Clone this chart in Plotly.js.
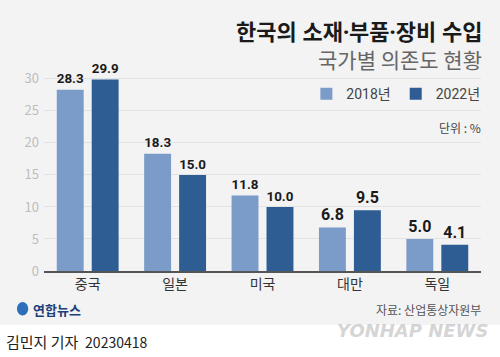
<!DOCTYPE html>
<html>
<head>
<meta charset="utf-8">
<script src="https://cdn.plot.ly/plotly-3.0.1.min.js"></script>
<style>html,body{margin:0;padding:0;background:#f3f3f3;}#chart{width:500px;height:357px;}</style>
</head>
<body>
<div id="chart"></div>
<script>
const countries = ['중국', '일본', '미국', '대만', '독일'];
const values2018 = [28.3, 18.3, 11.8, 6.8, 5.0];
const values2022 = [29.9, 15.0, 10.0, 9.5, 4.1];
const seriesNames = ['2018년', '2022년'];
const yTicks = [0, 5, 10, 15, 20, 25, 30];

const FONT = 'Noto Sans CJK KR, Noto Sans, sans-serif';
const MIX = 'Roboto, Noto Sans CJK KR, sans-serif';
const labelFont = {family: 'Roboto, sans-serif', size: 16, color: '#1a1a1a'};

const traces = [
  {type: 'bar', name: seriesNames[0], x: countries, y: values2018,
   marker: {color: '#7b9cc8'}, texttemplate: '<b>%{y:.1f}</b>', textposition: 'outside',
   textfont: labelFont, cliponaxis: false, hoverinfo: 'none'},
  {type: 'bar', name: seriesNames[1], x: countries, y: values2022,
   marker: {color: '#2e5d94'}, texttemplate: '<b>%{y:.1f}</b>', textposition: 'outside',
   textfont: labelFont, cliponaxis: false, hoverinfo: 'none'}
];

const layout = {
  width: 500, height: 357,
  margin: {l: 44, r: 19, t: 66, b: 86},
  paper_bgcolor: '#f3f3f3', plot_bgcolor: 'rgba(0,0,0,0)',
  font: {family: FONT},
  barmode: 'group', bargap: 0.2, bargroupgap: 0.23,
  showlegend: true,
  legend: {orientation: 'h', x: 1.01, xanchor: 'right', y: 0.863, yanchor: 'middle',
           font: {family: MIX, size: 14, color: '#444'}, bgcolor: 'rgba(0,0,0,0)',
           traceorder: 'normal', itemwidth: 30},
  xaxis: {showline: true, linecolor: '#555', linewidth: 1.5, ticks: '', showgrid: false,
          tickfont: {family: FONT, size: 14, color: '#333'}, fixedrange: true},
  yaxis: {range: [0, 32], tickvals: yTicks, showgrid: true, gridcolor: '#e2e2e2', gridwidth: 1,
          zeroline: false, ticks: '', tickfont: {family: FONT, size: 13, color: '#bdbdbd'},
          ticklabelstandoff: 4, fixedrange: true},
  shapes: [
    {type: 'rect', xref: 'paper', yref: 'paper', x0: -0.2, x1: 1.2, y0: -0.42, y1: -0.263,
     fillcolor: '#ffffff', line: {width: 0}, layer: 'below'},
    {type: 'circle', xref: 'paper', yref: 'paper', x0: -0.062, x1: -0.036, y0: -0.217, y1: -0.151,
     fillcolor: '#2d6fb8', line: {width: 0}}
  ],
  annotations: [
    {text: '<b>한국의 소재·부품·장비 수입</b>', xref: 'paper', yref: 'paper', x: 1.008, y: 1.171,
     xanchor: 'right', yanchor: 'middle', showarrow: false,
     font: {family: 'Noto Sans, Noto Sans CJK KR, sans-serif', size: 22, color: '#1a1a1a'}},
    {text: '국가별 의존도 현황', xref: 'paper', yref: 'paper', x: 1.008, y: 1.034,
     xanchor: 'right', yanchor: 'middle', showarrow: false,
     font: {family: FONT, size: 21, color: '#666'}},
    {text: '단위 : %', xref: 'paper', yref: 'paper', x: 1.005, y: 0.702,
     xanchor: 'right', yanchor: 'middle', showarrow: false,
     font: {family: FONT, size: 12, color: '#444'}},
    {text: '<b>연합뉴스</b>', xref: 'paper', yref: 'paper', x: -0.03, y: -0.19,
     xanchor: 'left', yanchor: 'middle', showarrow: false,
     font: {family: FONT, size: 13, color: '#1f3f7a'}},
    {text: '자료: 산업통상자원부', xref: 'paper', yref: 'paper', x: 1.005, y: -0.19,
     xanchor: 'right', yanchor: 'middle', showarrow: false,
     font: {family: FONT, size: 12, color: '#555'}},
    {text: '<b><i>YONHAP NEWS</i></b>', xref: 'paper', yref: 'paper', x: 1.02, y: -0.29,
     xanchor: 'right', yanchor: 'middle', showarrow: false,
     font: {family: 'DejaVu Sans, sans-serif', size: 18, color: 'rgba(185,185,185,0.6)'}},
    {text: '김민지 기자  <span style="font-size:14px">20230418</span>', xref: 'paper', yref: 'paper', x: -0.091, y: -0.346,
     xanchor: 'left', yanchor: 'middle', showarrow: false,
     font: {family: FONT, size: 15, color: '#222'}}
  ]
};

Plotly.newPlot('chart', traces, layout, {displayModeBar: false, staticPlot: true});
</script>
</body>
</html>
